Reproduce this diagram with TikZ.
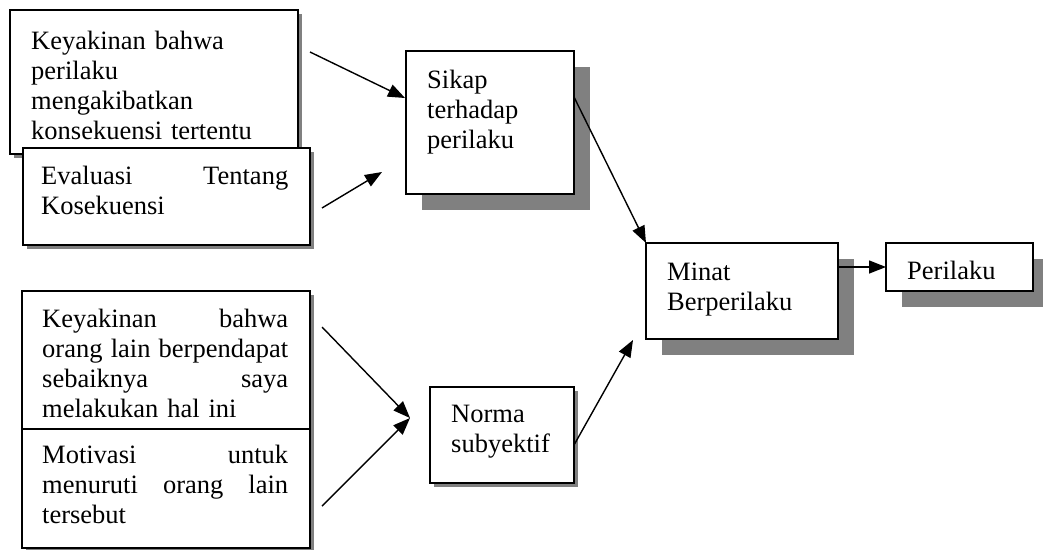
\documentclass[tikz,border=0pt]{standalone}
\usepackage{fontspec}
\setmainfont{Liberation Serif}
\usetikzlibrary{arrows.meta,shadows,calc}
\definecolor{shade}{HTML}{808080}
\newcommand{\jsp}{\hspace{0.25em plus 1fill}}
\newcommand{\jline}[1]{\leavevmode\hbox to \linewidth{#1}}
\tikzset{
  box/.style={draw, line width=1.4pt, fill=white, inner sep=0pt, outer sep=0pt, anchor=north west},
  bigshadow/.style={drop shadow={shadow xshift=16pt, shadow yshift=-16pt, fill=shade, opacity=1}},
  smallshadow/.style={drop shadow={shadow xshift=4pt, shadow yshift=-4pt, fill=shade, opacity=1}},
  txt/.style={inner sep=0pt, anchor=base west, align=left, text width=250pt, font=\fontsize{26.5}{30}\selectfont},
  arr/.style={line width=1.4pt, -{Triangle[length=17pt,width=13pt]}}
}
\begin{document}
\begin{tikzpicture}[x=1pt,y=-1pt]
\useasboundingbox (0,0) rectangle (1043,549);
% boxes
\node[box, smallshadow, minimum width=288pt, minimum height=144pt] (b1) at (10,10) {};
\node[box, smallshadow, minimum width=287pt, minimum height=97pt] (b2) at (23,148) {};
\node[box, bigshadow, minimum width=168pt, minimum height=143pt] (sikap) at (406,51) {};
\node[box, bigshadow, minimum width=192pt, minimum height=96pt] (minat) at (646,243) {};
\node[box, bigshadow, minimum width=147pt, minimum height=48pt] (perilaku) at (886,243) {};
\node[box, smallshadow, minimum width=288pt, minimum height=138pt] (b3) at (22,291) {};
\node[box, smallshadow, minimum width=288pt, minimum height=119pt] (b4) at (22,429) {};
\node[box, smallshadow, minimum width=144pt, minimum height=96pt] (norma) at (430,387) {};
% texts
\node[txt, text width=240pt] (t1) at (31,49) {Keyakinan bahwa\\perilaku\\mengakibatkan\\konsekuensi tertentu};
\node[txt, text width=247pt] (t2) at (41,184) {\jline{Evaluasi\jsp Tentang}\\Kosekuensi};
\node[txt, text width=140pt] (t3) at (427,88) {Sikap\\terhadap\\perilaku};
\node[txt, text width=160pt] (t4) at (667,280) {Minat\\Berperilaku};
\node[txt, text width=120pt] (t5) at (907,279) {Perilaku};
\node[txt, text width=246pt] (t6) at (42,327) {\jline{Keyakinan\jsp bahwa}\\\jline{orang\jsp lain\jsp berpendapat}\\\jline{sebaiknya\jsp saya}\\melakukan hal ini};
\node[txt, text width=246pt] (t7) at (42,463) {\jline{Motivasi\jsp untuk}\\\jline{menuruti\jsp orang\jsp lain}\\tersebut};
\node[txt, text width=120pt] (t8) at (451,422) {Norma\\subyektif};
% free ends
\coordinate (s1) at (310,52);
\coordinate (e1) at (405,98);
\coordinate (s2) at (322,208);
\coordinate (e2) at (382,172);
\coordinate (s3) at (322,327);
\coordinate (s4) at (322,506);
\coordinate (e34) at (410,418);
\coordinate (e5) at (633,340);
% connectors
\draw[arr] (s1) -- (e1);
\draw[arr] (s2) -- (e2);
\draw[arr] ($(sikap.north east)+(0,46)$) -- (minat.north west);
\draw[arr] (perilaku.west -| minat.east) -- (perilaku.west);
\draw[arr] (s3) -- (e34);
\draw[arr] (s4) -- (e34);
\draw[arr] ($(norma.north east)+(0,58)$) -- (e5);
\end{tikzpicture}
\end{document}
